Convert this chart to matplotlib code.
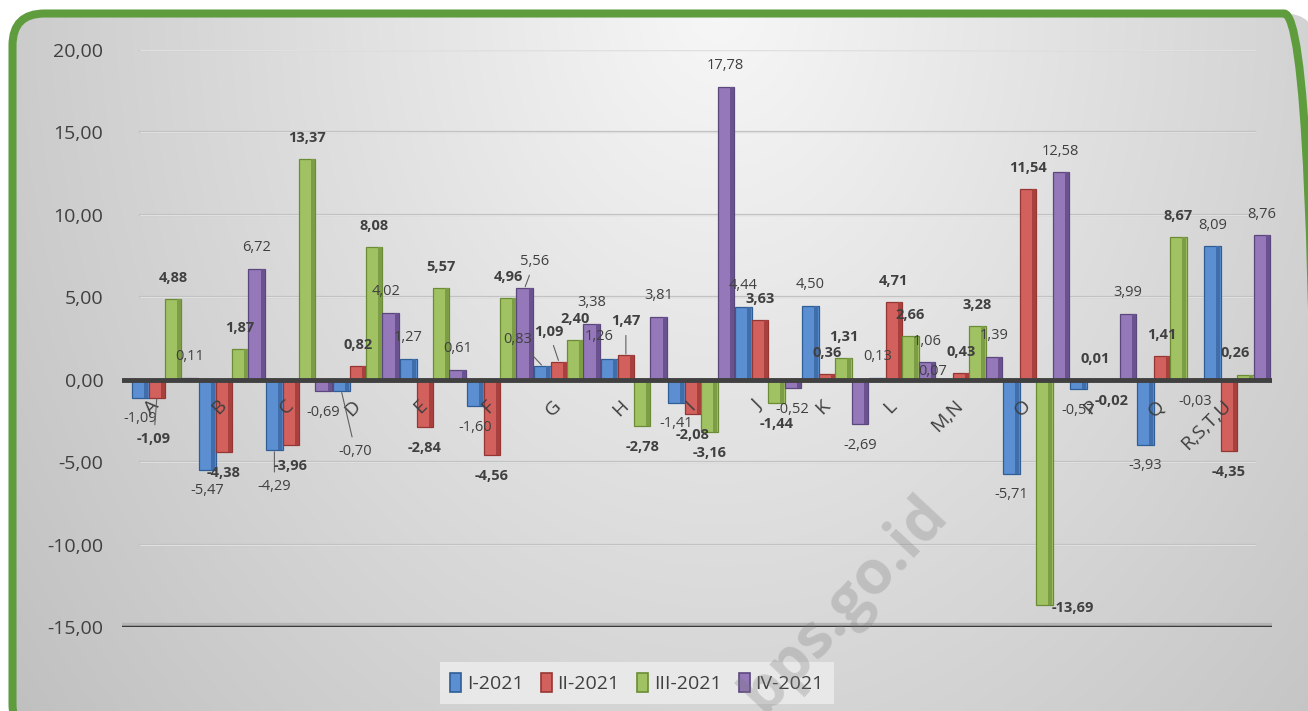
import matplotlib.pyplot as plt
import numpy as np
from matplotlib.patches import FancyBboxPatch, Patch

plt.rcParams['font.family'] = ['Open Sans', 'DejaVu Sans']

categories = ['A', 'B', 'C', 'D', 'E', 'F', 'G', 'H', 'I', 'J', 'K', 'L',
              'M,N', 'O', 'P', 'Q', 'R,S,T,U']
q1 = [-1.09, -5.47, -4.29, -0.70, 1.27, -1.60, 0.83, 1.26, -1.41, 4.44,
      4.50, 0.13, 0.07, -5.71, -0.57, -3.93, 8.09]
q2 = [-1.09, -4.38, -3.96, 0.82, -2.84, -4.56, 1.09, 1.47, -2.08, 3.63,
      0.36, 4.71, 0.43, 11.54, 0.01, 1.41, -4.35]
q3 = [4.88, 1.87, 13.37, 8.08, 5.57, 4.96, 2.40, -2.78, -3.16, -1.44,
      1.31, 2.66, 3.28, -13.69, -0.02, 8.67, 0.26]
q4 = [0.11, 6.72, -0.69, 4.02, 0.61, 5.56, 3.38, 3.81, 17.78, -0.52,
      -2.69, 1.06, 1.39, 12.58, 3.99, -0.03, 8.76]
series = ['I-2021', 'II-2021', 'III-2021', 'IV-2021']
yticks = [-15, -10, -5, 0, 5, 10, 15, 20]

faces = ['#5b8fd2', '#d2605c', '#a0c263', '#9478b9']
edges = ['#2f5e97', '#943634', '#6b8c34', '#5c477c']
sides = ['#3f6eaa', '#a8413e', '#7c9c45', '#6a5290']

# hand placed labels, like the manual ones in the original (dx, dy in px, leader)
nudge = {
    ('A', 1): (-3, 41, True),
    ('C', 0): (0, 36, True),
    ('D', 0): (14, 60, True),
    ('D', 3): (-5, -22, False),
    ('F', 3): (10, -27, True),
    ('G', 0): (-25, -27, True),
    ('G', 1): (-10, -30, True),
    ('H', 0): (-10, -22, False),
    ('H', 1): (0, -34, True),
    ('M,N', 0): (-12, -7, False),
    ('O', 2): (28, 3, False),
    ('R,S,T,U', 2): (-10, -22, False),
}

W, H = 1308, 711
fig = plt.figure(figsize=(W / 100, H / 100), dpi=100)

# rounded green frame in figure pixels (y up), gradient clipped to it
frame = FancyBboxPatch((12.5, -25), 1303.5, H - 13.5 + 25,
                       boxstyle='round,pad=0,rounding_size=32',
                       facecolor='none', edgecolor='#5e9c3e', lw=5.8,
                       transform=None, zorder=5)
bg = fig.add_axes([0, 0, 1, 1], zorder=-10)
bg.axis('off')
xx, yy = np.meshgrid(np.linspace(0, 1, 300), np.linspace(0, 1, 200))
r = np.sqrt(((xx - 0.55) / 0.55) ** 2 + (yy / 1.3) ** 2)
shade = np.clip(247 - 44 * r, 150, 255) / 255
img = bg.imshow(np.dstack([shade, shade, shade]), extent=[0, 1, 0, 1],
                origin='upper', aspect='auto', interpolation='bilinear')
img.set_clip_path(frame)
fig.add_artist(frame)

ax = fig.add_axes([122 / W, 1 - 627 / H, 1150 / W, 577 / H])
ax.set_facecolor('none')
ax.set_ylim(-15, 20)
ax.set_xlim(-0.642, 16.52)
for s in ax.spines.values():
    s.set_visible(False)
ax.set_xticks([])
ax.set_yticks(yticks)
ax.set_yticklabels([f'{v:.2f}'.replace('.', ',') for v in yticks],
                   fontsize=14, color='#404040')
ax.tick_params(axis='y', length=0, pad=13.5)

for v in yticks[1:]:
    if v == 0:
        continue
    ax.axhline(v, xmin=0.016, xmax=0.985, color='#c2c2c2', lw=1.6, zorder=1)
    ax.axhline(v, xmin=0.016, xmax=0.985, color='#e6e6e6', lw=0.6, zorder=1)
ax.axhline(-15, color='#b4b4b4', lw=6, zorder=1)
ax.axhline(-15, color='#3a3a3a', lw=2.5, zorder=1)

x = np.arange(len(categories))
step, bw = 0.245, 0.245
for k, vals in enumerate([q1, q2, q3, q4]):
    xs = x + (k - 1.5) * step
    ax.bar(xs, vals, bw, color=faces[k], edgecolor=edges[k], lw=0.9, zorder=2)
    ax.bar(xs + bw / 2 - 0.035, vals, 0.06, color=sides[k], lw=0, zorder=2.1)
    for i, v in enumerate(vals):
        dx, dy, lead = nudge.get((categories[i], k), (0, 21 if v < 0 else -21, False))
        ax.annotate(f'{v:.2f}'.replace('.', ','), xy=(xs[i], v),
                    xytext=(dx, -dy), textcoords='offset pixels',
                    ha='center', va='center', fontsize=10.5, color='#404040',
                    fontweight='bold' if k in (1, 2) else 'normal', zorder=5,
                    arrowprops=dict(arrowstyle='-', color='#606060', lw=0.8,
                                    shrinkA=3, shrinkB=1) if lead else None)

ax.axhline(0, color='#404040', lw=3.5, zorder=3)

for i, c in enumerate(categories):
    ax.annotate(c, xy=(i, 0), xytext=(-2, -17), textcoords='offset pixels',
                ha='right', va='top', rotation=45, fontsize=14,
                color='#404040', zorder=4)

handles = [Patch(facecolor=faces[k], edgecolor=edges[k], lw=1.2) for k in range(4)]
leg = fig.legend(handles, series, loc='center', bbox_to_anchor=(637 / W, 1 - 683 / H),
                 ncol=4, fontsize=14, frameon=True, fancybox=False,
                 facecolor='#ececec', edgecolor='none', framealpha=0.85,
                 handlelength=0.55, handleheight=1.1, handletextpad=0.3,
                 columnspacing=0.9, borderpad=0.55)
for t in leg.get_texts():
    t.set_color('#404040')

fig.text(845 / W, 1 - 605 / H, 'bps.go.id', rotation=47, fontsize=44,
         fontweight='bold', color='#7a7a7a', alpha=0.28,
         ha='center', va='center', zorder=20)

fig.savefig('out.png', dpi=100)
